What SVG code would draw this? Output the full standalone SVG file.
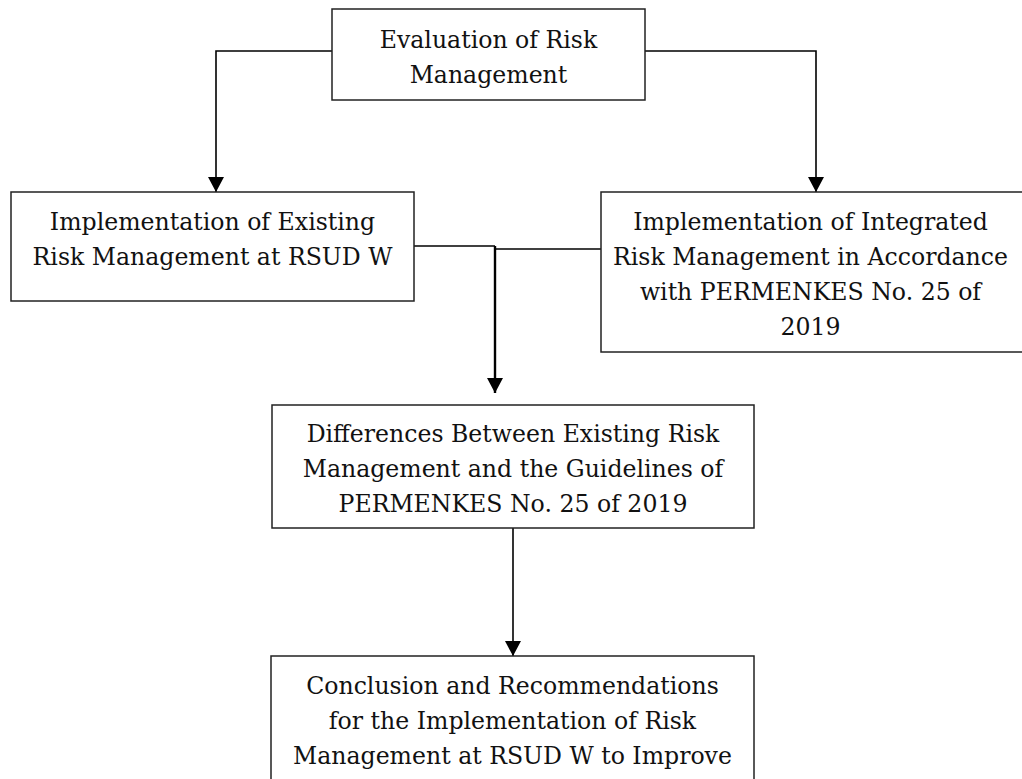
<svg xmlns="http://www.w3.org/2000/svg" width="1022" height="779" viewBox="0 0 1022 779">
<style>
.box{fill:#fff;stroke:#222;stroke-width:1.5}
.t{font-family:"DejaVu Serif","Liberation Serif",serif;font-size:23.6px;fill:#111;text-anchor:middle}
.c{fill:none;stroke:#000;stroke-width:1.6}
</style>
<defs>
<marker id="ah" markerUnits="userSpaceOnUse" markerWidth="17" markerHeight="17" refX="15" refY="8" orient="auto">
<path d="M0,0 L15,8 L0,16 z" fill="#000"/>
</marker>
</defs>
<g id="connectors">
<path class="c" d="M332,51 H216 V192" marker-end="url(#ah)"/>
<path class="c" d="M645,51 H816 V192" marker-end="url(#ah)"/>
<path class="c" d="M414,246 H495"/>
<path class="c" d="M601,249 H495"/>
<path class="c" style="stroke-width:2.4" d="M495,246 V393" marker-end="url(#ah)"/>
<path class="c" d="M513,528 V656" marker-end="url(#ah)"/>
</g>
<g id="n-eval">
<rect class="box" x="332" y="9" width="313" height="91"/>
<text class="t" x="488.5" y="48">Evaluation of Risk</text>
<text class="t" x="488.5" y="83">Management</text>
</g>
<g id="n-existing">
<rect class="box" x="11" y="192" width="403" height="109"/>
<text class="t" x="212.5" y="230">Implementation of Existing</text>
<text class="t" x="212.5" y="265">Risk Management at RSUD W</text>
</g>
<g id="n-integrated">
<rect class="box" x="601" y="192" width="424" height="160"/>
<text class="t" x="810.5" y="230">Implementation of Integrated</text>
<text class="t" x="810.5" y="265">Risk Management in Accordance</text>
<text class="t" x="810.5" y="300">with PERMENKES No. 25 of</text>
<text class="t" x="810.5" y="335">2019</text>
</g>
<g id="n-differences">
<rect class="box" x="272" y="405" width="482" height="123"/>
<text class="t" x="513" y="442">Differences Between Existing Risk</text>
<text class="t" x="513" y="477">Management and the Guidelines of</text>
<text class="t" x="513" y="512">PERMENKES No. 25 of 2019</text>
</g>
<g id="n-conclusion">
<rect class="box" x="271" y="656" width="483" height="140"/>
<text class="t" x="512.5" y="694">Conclusion and Recommendations</text>
<text class="t" x="512.5" y="729">for the Implementation of Risk</text>
<text class="t" x="512.5" y="764">Management at RSUD W to Improve</text>
</g>
</svg>
